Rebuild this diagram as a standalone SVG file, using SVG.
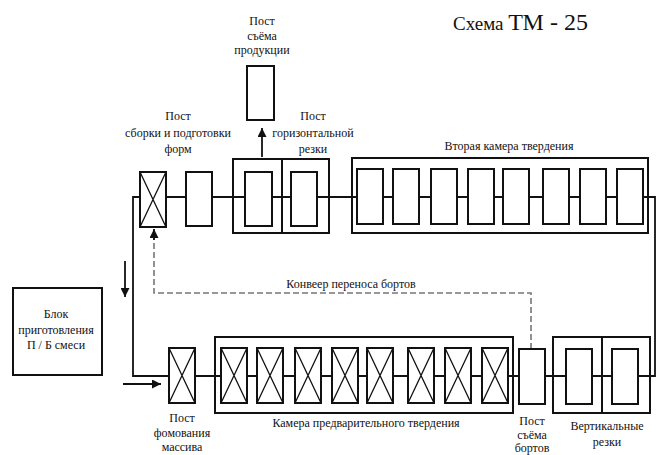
<svg xmlns="http://www.w3.org/2000/svg" width="659" height="455" viewBox="0 0 659 455">
<style>
.t{font-family:"Liberation Serif","Times New Roman",serif;font-size:12px;fill:#111;text-anchor:middle}
.b{fill:#fff;stroke:#111;stroke-width:2}
.o{fill:none;stroke:#111;stroke-width:2}
.x{stroke:#111;stroke-width:1.3}
.ln{fill:none;stroke:#111;stroke-width:1.8}
.ds{fill:none;stroke:#777;stroke-width:1.6;stroke-dasharray:6,3}
</style>
<defs>
<marker id="ah" viewBox="0 0 10 10" refX="10" refY="5" markerWidth="9" markerHeight="9" markerUnits="userSpaceOnUse" orient="auto">
<path d="M0,0 L10,5 L0,10 z" fill="#111"/>
</marker>
<g id="xb"><rect class="b" x="0" y="0" width="26" height="55"/><path class="x" d="M0,0 L26,55 M26,0 L0,55"/></g>
</defs>
<rect width="659" height="455" fill="#fff"/>
<g id="connectors">
<path class="ln" d="M133,197 H655 V376 H133 Z"/>
<line class="ln" x1="262" y1="157" x2="262" y2="128" marker-end="url(#ah)"/>
<line class="ln" x1="125" y1="261" x2="125" y2="297" marker-end="url(#ah)"/>
<line class="ln" x1="123" y1="384" x2="161" y2="384" marker-end="url(#ah)"/>
<path class="ds" d="M531,349 V293 H154 V237"/>
<line class="ln" x1="154" y1="240" x2="154" y2="229" marker-end="url(#ah)"/>
</g>
<g id="title"><text x="453" y="30" style="font-family:'Liberation Serif','Times New Roman',serif;font-size:19px;fill:#111">Схема <tspan style="font-size:24px">ТМ - 25</tspan></text></g>
<g id="post-produkcii">
<rect class="b" x="247" y="66" width="27" height="54"/>
<text class="t"><tspan x="262" y="25">Пост</tspan><tspan x="262" y="40">съёма</tspan><tspan x="262" y="54">продукции</tspan></text>
</g>
<g id="post-sborki">
<use href="#xb" x="140" y="172"/>
<rect class="b" x="186" y="172" width="26" height="54"/>
<text class="t"><tspan x="178" y="120">Пост</tspan><tspan x="178" y="137">сборки и подготовки</tspan><tspan x="178" y="153">форм</tspan></text>
</g>
<g id="post-gorizontalnoy">
<rect class="o" x="233" y="159" width="49" height="74"/>
<rect class="o" x="282" y="159" width="47" height="74"/>
<rect class="b" x="245" y="172" width="27" height="54"/>
<rect class="b" x="291" y="172" width="26" height="54"/>
<text class="t"><tspan x="313" y="120">Пост</tspan><tspan x="313" y="137">горизонтальной</tspan><tspan x="313" y="153">резки</tspan></text>
</g>
<g id="vtoraya-kamera">
<rect class="o" x="352" y="158" width="296" height="75"/>
<rect class="b" x="357" y="169" width="26" height="55"/>
<rect class="b" x="393" y="169" width="26" height="55"/>
<rect class="b" x="431" y="169" width="26" height="55"/>
<rect class="b" x="468" y="169" width="26" height="55"/>
<rect class="b" x="503" y="169" width="26" height="55"/>
<rect class="b" x="543" y="169" width="26" height="55"/>
<rect class="b" x="580" y="169" width="26" height="55"/>
<rect class="b" x="617" y="169" width="26" height="55"/>
<text class="t" x="509" y="150">Вторая камера твердения</text>
</g>
<g id="konveer"><text class="t" x="351" y="288">Конвеер переноса бортов</text></g>
<g id="blok">
<rect class="b" x="13" y="288" width="89" height="87"/>
<text class="t"><tspan x="56" y="318">Блок</tspan><tspan x="56" y="334">приготовления</tspan><tspan x="56" y="349">П / Б смеси</tspan></text>
</g>
<g id="post-fomovaniya">
<use href="#xb" x="169" y="348"/>
<text class="t"><tspan x="182" y="422">Пост</tspan><tspan x="182" y="437">фомования</tspan><tspan x="182" y="451">массива</tspan></text>
</g>
<g id="kamera-predv">
<rect class="o" x="215" y="337" width="298" height="76"/>
<use href="#xb" x="221" y="348"/>
<use href="#xb" x="257" y="348"/>
<use href="#xb" x="295" y="348"/>
<use href="#xb" x="332" y="348"/>
<use href="#xb" x="367" y="348"/>
<use href="#xb" x="408" y="348"/>
<use href="#xb" x="445" y="348"/>
<use href="#xb" x="482" y="348"/>
<text class="t" x="366" y="427">Камера предварительного твердения</text>
</g>
<g id="post-bortov">
<rect class="b" x="519" y="349" width="26" height="55"/>
<text class="t"><tspan x="532" y="425">Пост</tspan><tspan x="532" y="439">съёма</tspan><tspan x="532" y="452">бортов</tspan></text>
</g>
<g id="vertikalnye">
<rect class="o" x="553" y="337" width="49" height="76"/>
<rect class="o" x="602" y="337" width="48" height="76"/>
<rect class="b" x="566" y="349" width="26" height="55"/>
<rect class="b" x="612" y="349" width="26" height="55"/>
<text class="t"><tspan x="607" y="430">Вертикальные</tspan><tspan x="607" y="446">резки</tspan></text>
</g>
</svg>
